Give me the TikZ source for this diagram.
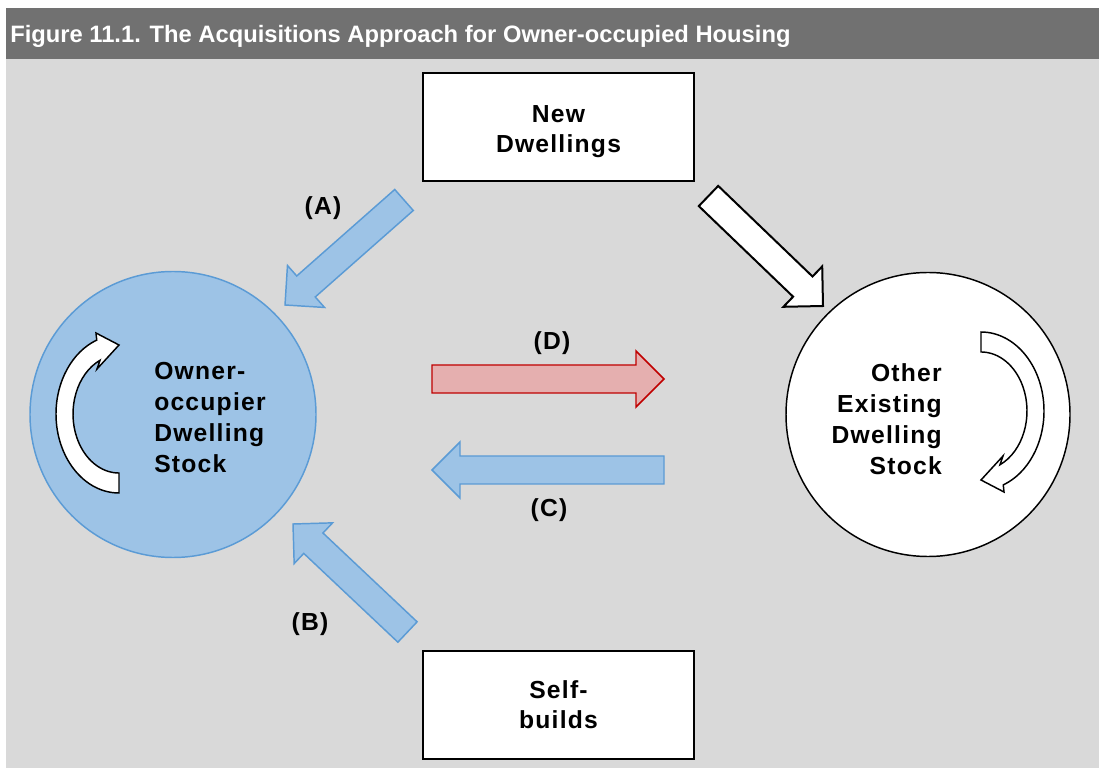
\documentclass[tikz,border=0pt]{standalone}
\usepackage{fontspec}
\setmainfont{Liberation Sans}
\newfontfamily\spacedfont[LetterSpace=5]{Liberation Sans}
\usetikzlibrary{calc}

\definecolor{barGray}{HTML}{717171}
\definecolor{panelGray}{HTML}{D9D9D9}
\definecolor{stockBlue}{HTML}{9DC3E6}
\definecolor{stockEdge}{HTML}{5B9BD5}
\definecolor{flowRed}{HTML}{E5AFAF}
\definecolor{flowRedEdge}{HTML}{C00000}

% Block arrow: #1 style, #2 tail coordinate, #3 tip coordinate
% shaft 28px wide, head 56px wide and 28px long (1px = 0.75pt)
\newcommand{\blockarrow}[3]{%
  \path ($(#3)!21pt!(#2)$) coordinate (hb);
  \draw[#1] ($(#2)!10.5pt!90:(#3)$) -- ($(hb)!10.5pt!-90:(#2)$)
    -- ($(hb)!21pt!-90:(#2)$) -- (#3) -- ($(hb)!21pt!90:(#2)$)
    -- ($(hb)!10.5pt!90:(#2)$) -- ($(#2)!10.5pt!-90:(#3)$) -- cycle;
}

% Curved (clockwise) arrow on the left side of a stock circle
\newcommand{\turnpath}{(119,275) arc[start angle=270, end angle=110.7, x radius=63, y radius=79]
  -- (96,435) -- (119,423) -- (97,399) -- (100,407.7)
  arc[start angle=114.4, end angle=270, x radius=46, y radius=59] -- cycle}

\begin{document}
\begin{tikzpicture}[x=0.75pt, y=0.75pt,
  stocktext/.style={font=\spacedfont\bfseries\fontsize{18.5}{23.25}\selectfont, inner sep=0pt},
  labeltext/.style={font=\spacedfont\bfseries\fontsize{18.5}{23.25}\selectfont, inner sep=0pt},
  sourcebox/.style={draw=black, fill=white, line width=1.1pt, minimum width=203.25pt,
    minimum height=81pt, align=center, font=\spacedfont\bfseries\fontsize{18.5}{22.5}\selectfont},
  blueflow/.style={fill=stockBlue, draw=stockEdge, line width=1.1pt, line join=miter},
  redflow/.style={fill=flowRed, draw=flowRedEdge, line width=1.1pt, line join=miter},
  whiteflow/.style={fill=white, draw=black, line width=1.5pt, line join=miter},
  turn/.style={fill=white, draw=black, line width=1.1pt, line join=miter}]

\useasboundingbox (0,0) rectangle (1099,768);

% page, panel and title bar
\fill[white] (0,0) rectangle (1099,768);
\fill[panelGray] (6,0) rectangle (1099,709);
\fill[barGray] (6,709) rectangle (1099,760);
\node[anchor=base west, inner sep=0pt, text=white,
  font=\bfseries\fontsize{17.8}{20}\selectfont] (title) at (10,725.5)
  {Figure 11.1. The Acquisitions Approach for Owner-occupied Housing};

% stocks
\node[circle, minimum size=214.5pt, inner sep=0pt, fill=stockBlue, draw=stockEdge, line width=1.1pt]
  (owner) at (173,353.5) {};
\node[circle, minimum size=213pt, inner sep=0pt, fill=white, draw=black, line width=1.1pt]
  (other) at (928,353.5) {};

% sources
\node[sourcebox] (new) at (558.5,641) {\rule{0pt}{19pt}New\\Dwellings};
\node[sourcebox] (self) at (558.5,63) {Self-\\builds};

% stock labels
\node[stocktext, align=left, anchor=west] (ownertext) at (154,350.5)
  {Owner-\\occupier\\Dwelling\\Stock};
\node[stocktext, align=right, anchor=east] (othertext) at (942,348.5)
  {Other\\Existing\\Dwelling\\Stock};

% turnover inside each stock
\draw[turn] \turnpath;
\draw[turn, rotate around={180:(550,355.5)}] \turnpath;

% flow end points
\coordinate (a-tail) at (404,568);   \coordinate (a-tip) at (285,463);
\coordinate (b-tail) at (407.5,136); \coordinate (b-tip) at (293,244);
\coordinate (n-tail) at (708.5,572); \coordinate (n-tip) at (823,462);
\coordinate (d-tail) at (432,389);   \coordinate (d-tip) at (664,389);
\coordinate (c-tail) at (664,298);   \coordinate (c-tip) at (432,298);

% flows
\blockarrow{blueflow}{a-tail}{a-tip}
\blockarrow{blueflow}{b-tail}{b-tip}
\blockarrow{whiteflow}{n-tail}{n-tip}
\blockarrow{redflow}{d-tail}{d-tip}
\blockarrow{blueflow}{c-tail}{c-tip}

% flow labels
\node[labeltext] (la) at (323,560) {(A)};
\node[labeltext] (lb) at (310,144) {(B)};
\node[labeltext] (lc) at (549,258) {(C)};
\node[labeltext] (ld) at (552,425) {(D)};

\end{tikzpicture}
\end{document}
